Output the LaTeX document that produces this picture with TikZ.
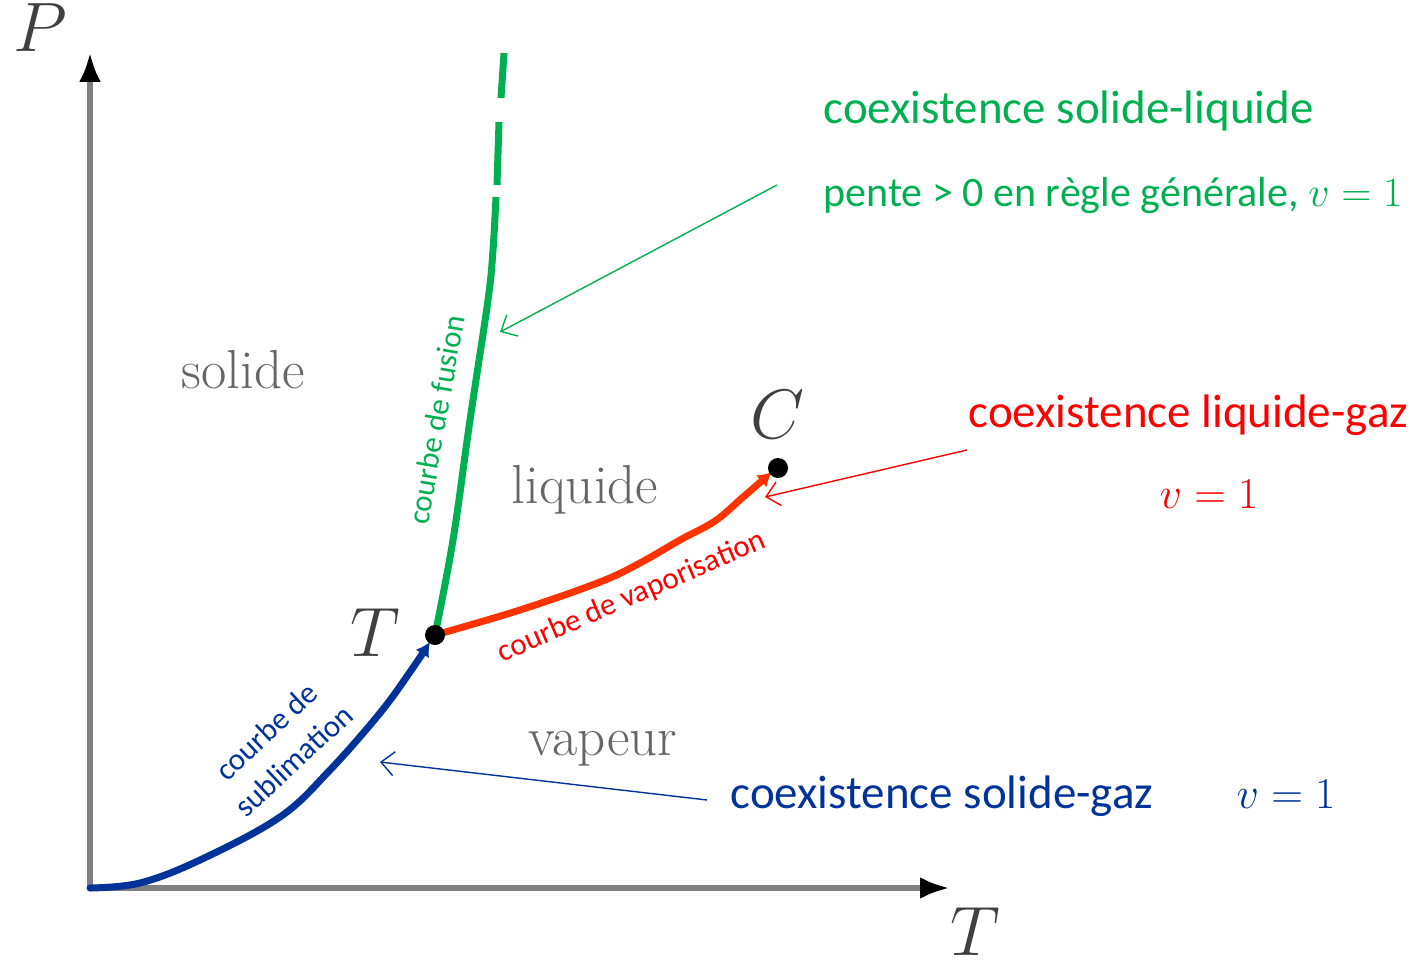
\RequirePackage{fix-cm}
\documentclass[tikz,border=0pt]{standalone}
\usepackage{fontspec}
\usepackage{amsmath}
\usepackage{tikz}
\usetikzlibrary{arrows.meta}
\newfontfamily\calfont{Carlito}
\definecolor{fusgreen}{HTML}{00B050}
\definecolor{vapred}{HTML}{FF3300}
\definecolor{txtred}{HTML}{FF0000}
\definecolor{subblue}{HTML}{003399}
\newcommand{\bigfont}[1]{\fontsize{#1}{#1}\selectfont}

\begin{document}
\begin{tikzpicture}[x=1pt,y=-1pt,line join=round,
    axis/.style={line width=6pt,black!50,-{Latex[black,length=30pt,width=22pt]}},
    phase/.style={line width=7pt,line cap=round},
    note/.style={line width=1.4pt,-{Straight Barb[length=13pt,width=24pt]}},
    region/.style={black!60,font=\bigfont{55}},
    lab/.style={black!75,font=\bigfont{70},inner sep=0pt},
    curvelab/.style={font=\calfont\fontsize{31}{40}\selectfont},
    coex/.style={anchor=base west,font=\calfont\bigfont{47}}]
  \useasboundingbox (0,0) rectangle (1420,963);
  \coordinate (O) at (90,888);
  \coordinate (Pmax) at (90,52);
  \coordinate (Tmax) at (950,888);
  \coordinate (tp) at (435,635);  % triple point
  \coordinate (cp) at (778,468);  % critical point
  % axes
  \draw[axis] (O)--(Pmax);
  \draw[axis] (O)--(Tmax);
  \node[lab,anchor=base] (Plab) at (40,52) {$P$};
  \node[lab,anchor=base] (Tlab) at (975,955) {$T$};
  % fusion curve, dashed at the top
  \draw[phase,fusgreen,line cap=butt] plot[smooth,tension=0.6] coordinates
    {(tp) (453,540) (470,420) (488,300) (493,250) (496,197)};
  \draw[phase,fusgreen,line cap=butt] (497,185)--(499,122);
  \draw[phase,fusgreen,line cap=butt] (501,98)--(504,53);
  % vaporisation curve
  \draw[phase,vapred,-{Latex[length=14pt,width=16pt]}] plot[smooth,tension=0.6] coordinates
    {(tp) (520,610) (600,582) (640,563) (680,540) (715,521) (742,498) (772,472)};
  % sublimation curve
  \draw[phase,subblue,-{Latex[length=14pt,width=16pt]}] plot[smooth,tension=0.6] coordinates
    {(O) (140,883) (200,860) (280,817) (330,770) (380,713) (410,672) (430,642)};
  % points
  \fill (tp) circle (10pt);
  \fill (cp) circle (10pt);
  \node[lab,anchor=base] (tplab) at (375,656) {$T$};
  \node[lab,anchor=base] (cplab) at (778,438) {$C$};
  % regions
  \node[region,anchor=base] (solid) at (243,388) {solide};
  \node[region,anchor=base] (liq) at (585,503) {liquide};
  \node[region,anchor=base] (vap) at (603,755) {vapeur};
  % labels along the curves
  \node[curvelab,fusgreen,rotate=80] (fuslab) at (436,420) {courbe de fusion};
  \node[curvelab,txtred,rotate=23.5] (vaplab) at (632,597) {courbe de vaporisation};
  \node[curvelab,subblue,rotate=43,align=center,inner sep=0pt] (sublab) at (280,746) {courbe de\\sublimation};
  % coexistence notes
  \node[coex,fusgreen] (sl) at (820,124) {coexistence solide-liquide};
  \node[coex,fusgreen,font=\calfont\bigfont{42}] (slrule) at (820,206) {pente > 0 en règle générale, $v=1$};
  \node[coex,txtred] (lg) at (965,427) {coexistence liquide-gaz};
  \node[txtred,font=\bigfont{44},anchor=base] (lgv) at (1209,508) {$v=1$};
  \node[coex,subblue] (sg) at (727,808) {coexistence solide-gaz};
  \node[subblue,font=\bigfont{44},anchor=base] (sgv) at (1286,808) {$v=1$};
  \coordinate (slfrom) at (777,185);
  \coordinate (slto) at (500,332);
  \coordinate (lgfrom) at (967,450);
  \coordinate (lgto) at (765,497);
  \coordinate (sgfrom) at (707,800);
  \coordinate (sgto) at (380,762);
  \draw[note,fusgreen] (slfrom)--(slto);
  \draw[note,txtred] (lgfrom)--(lgto);
  \draw[note,subblue] (sgfrom)--(sgto);
\end{tikzpicture}
\end{document}
